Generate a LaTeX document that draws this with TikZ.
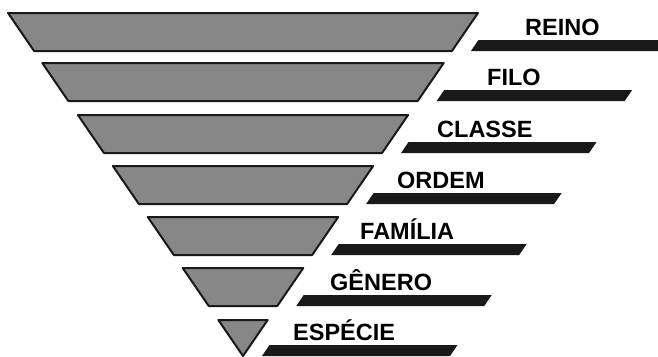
\documentclass[tikz,border=0pt]{standalone}
\usepackage{fontspec}
\setmainfont{Liberation Sans}
\usetikzlibrary{calc}

\tikzset{
  nivel/.style={fill=black!47, draw=black!90, line width=2pt, line join=round},
  barra/.style={fill=black!90},
  rotulo/.style={anchor=base west, inner sep=0pt, font=\fontsize{23.5}{26}\selectfont\bfseries}
}

\begin{document}
\begin{tikzpicture}[x=1pt, y=-1pt]
\useasboundingbox (0,0) rectangle (658,356);
\clip (0,0) rectangle (658,356);

% top of each level / left of its label / label
\foreach \t/\lx/\txt [count=\i] in {13/525/REINO, 63/487/FILO, 115/437/CLASSE, 166/397/ORDEM, 217/360/FAMÍLIA, 268/330/GÊNERO, 320/293/ESPÉCIE} {
  \pgfmathsetmacro{\b}{min(\t+38,356)}
  \pgfmathsetmacro{\wt}{0.685*(356-\t)}
  \pgfmathsetmacro{\wb}{0.685*(356-\b)}
  \draw[nivel] (243-\wt,\t) -- (243+\wt,\t) -- (243+\wb,\b) -- (243-\wb,\b) -- cycle;
  \fill[barra] (262+\wb,\b) -- ++(7.5,-11) -- ++(188,0) -- ++(-7.5,11) -- cycle;
  \node[rotulo] (rotulo\i) at (\lx,\b-16) {\txt};
}

\end{tikzpicture}
\end{document}
